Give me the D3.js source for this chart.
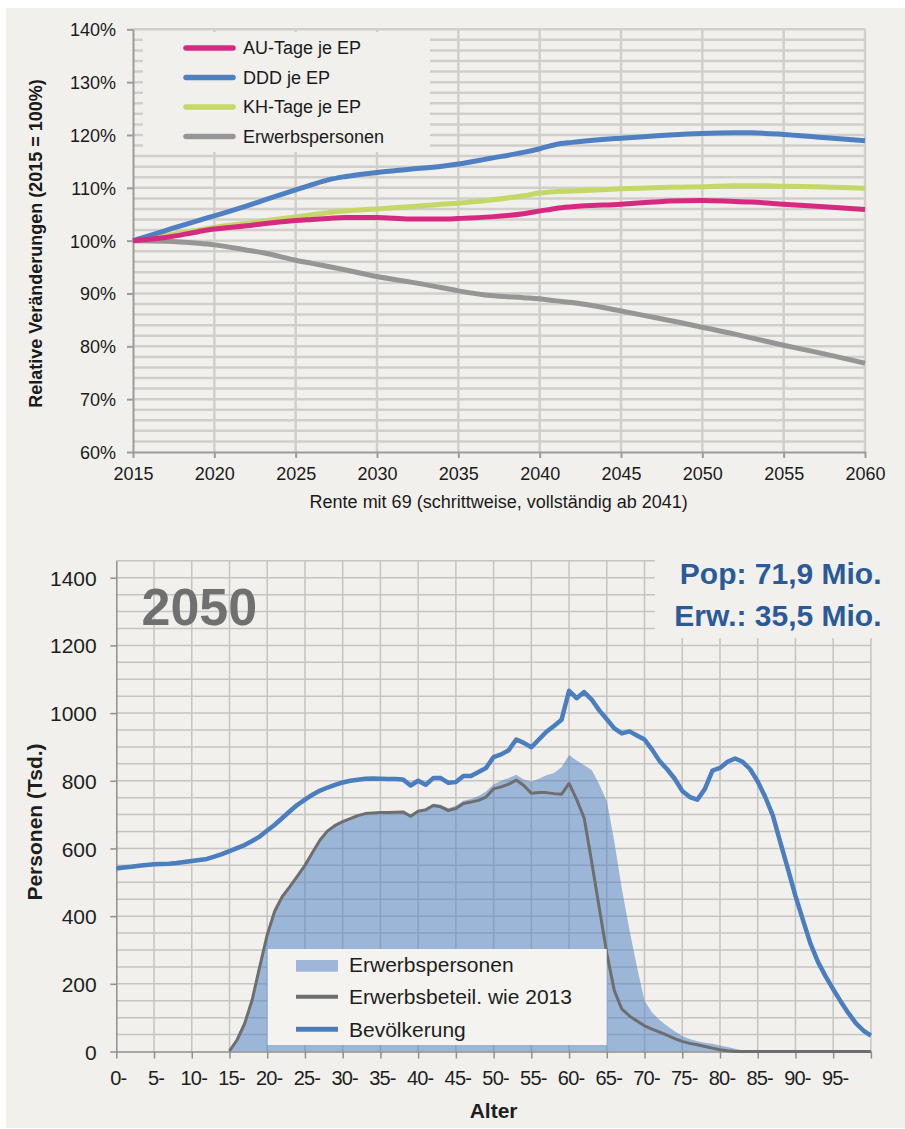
<!DOCTYPE html>
<html>
<head>
<meta charset="utf-8">
<script src="https://cdn.jsdelivr.net/npm/d3@7"></script>
<style>
  body { margin: 0; background: #fff; }
  svg { display: block; }
  text { font-family: "Liberation Sans", Arial, sans-serif; }
</style>
</head>
<body>
<svg id="chart" width="905" height="1129"></svg>
<script>
// ---------- upper chart: relative change, 2015 = 100 % ----------
const years = [2015, 2017, 2019, 2020, 2022, 2023, 2025, 2026, 2027, 2028, 2030, 2032, 2034, 2035,
               2037, 2039, 2040, 2041, 2042, 2045, 2047, 2048, 2050, 2052, 2053, 2055, 2057, 2060];
const auTage = [100, 100.6, 101.7, 102.2, 102.8, 103.2, 103.8, 104.0, 104.2, 104.4, 104.4, 104.1, 104.1, 104.2,
                104.5, 105.1, 105.6, 106.1, 106.4, 106.9, 107.3, 107.5, 107.6, 107.4, 107.3, 106.9, 106.5, 105.9];
const dddJeEP = [100, 101.9, 103.8, 104.7, 106.6, 107.6, 109.6, 110.6, 111.5, 112.1, 112.9, 113.5, 114.1, 114.5,
                 115.6, 116.7, 117.4, 118.2, 118.6, 119.4, 119.8, 120.0, 120.3, 120.4, 120.4, 120.1, 119.6, 118.9];
const khTage = [100, 101.0, 102.0, 102.5, 103.3, 103.7, 104.5, 104.9, 105.3, 105.6, 106.0, 106.4, 106.9, 107.1,
                107.7, 108.5, 109.0, 109.3, 109.4, 109.8, 110.0, 110.1, 110.2, 110.4, 110.4, 110.3, 110.2, 109.9];
const erwerbspersonen = [100, 99.9, 99.5, 99.2, 98.2, 97.7, 96.3, 95.7, 95.1, 94.5, 93.2, 92.2, 91.1, 90.5,
                         89.6, 89.2, 89.0, 88.6, 88.3, 86.7, 85.5, 84.9, 83.6, 82.3, 81.6, 80.2, 78.9, 76.8];
const yearTicks = [2015, 2020, 2025, 2030, 2035, 2040, 2045, 2050, 2055, 2060];
const pctTicks = [60, 70, 80, 90, 100, 110, 120, 130, 140];
const topSeries = [
  { name: "AU-Tage je EP", values: auTage, color: "#d62a80" },
  { name: "DDD je EP", values: dddJeEP, color: "#4f81c2" },
  { name: "KH-Tage je EP", values: khTage, color: "#c3d866" },
  { name: "Erwerbspersonen", values: erwerbspersonen, color: "#969696" }
];

// ---------- lower chart: age structure 2050 (thousands) ----------
const ages = d3.range(0, 101);
const bevoelkerung = [
  541, 544, 546, 549, 551, 553, 554, 555, 557, 560,
  563, 566, 569, 576, 583, 592, 601, 610, 622, 635,
  653, 670, 690, 710, 729, 744, 759, 771, 780, 788,
  795, 800, 803, 806, 807, 806, 805, 805, 804, 786,
  800, 788, 808, 808, 794, 796, 814, 814, 826, 838,
  870, 878, 890, 922, 912, 899, 922, 945, 962, 980,
  1066, 1044, 1062, 1040, 1008, 982, 955, 940, 946, 934,
  922, 892, 858, 834, 806, 770, 752, 744, 776, 830,
  838, 856, 866, 856, 834, 798, 752, 698, 618, 540,
  460, 388, 318, 264, 222, 184, 148, 114, 84, 62, 47
];
const erwerbspersonenAlter = [
  null, null, null, null, null, null, null, null, null, null,
  null, null, null, null, null, 2, 34, 82, 152, 250,
  345, 415, 458, 487, 518, 550, 588, 625, 652, 668,
  680, 690, 699, 705, 707, 708, 709, 710, 711, 700,
  714, 719, 732, 729, 719, 726, 741, 746, 755, 768,
  790, 800, 808, 818, 804, 798, 806, 816, 823, 840,
  876, 860, 846, 832, 790, 740, 620, 480, 360, 250,
  150, 115, 93, 75, 60, 46, 37, 30, 26, 23,
  18, 13, 8, 3, 0, 0, 0, 0, 0, 0,
  0, 0, 0, 0, 0, 0, 0, 0, 0, 0, 0
];
const erwerbsbeteil2013 = [
  null, null, null, null, null, null, null, null, null, null,
  null, null, null, null, null, 2, 34, 82, 152, 250,
  345, 415, 458, 487, 518, 550, 588, 625, 652, 668,
  679, 688, 697, 703, 705, 706, 706, 707, 708, 695,
  710, 714, 727, 723, 712, 718, 733, 737, 742, 752,
  776, 782, 790, 802, 786, 763, 765, 765, 762, 760,
  792, 745, 690, 560, 425, 290, 180, 125, 105, 90,
  76, 66, 57, 48, 38, 30, 24, 20, 15, 10,
  5, 2, 0, 0, 0, 0, 0, 0, 0, 0,
  0, 0, 0, 0, 0, 0, 0, 0, 0, 0, 0
];
const ageTicks = [0, 5, 10, 15, 20, 25, 30, 35, 40, 45, 50, 55, 60, 65, 70, 75, 80, 85, 90, 95, 100];
const personTicks = [0, 200, 400, 600, 800, 1000, 1200, 1400];
const bottomLegend = ["Erwerbspersonen", "Erwerbsbeteil. wie 2013", "Bevölkerung"];

const BG = "#f1f0ec";
const svg = d3.select("#chart");
svg.append("rect").attr("x", 6).attr("y", 8).attr("width", 899).attr("height", 1120).attr("fill", BG);

// ================= upper chart =================
const x1 = d3.scaleLinear().domain([2015, 2060]).range([133, 865]);
const y1 = d3.scaleLinear().domain([60, 140]).range([452, 29.3]);
const g1 = svg.append("g");

g1.selectAll("line.hg").data(d3.range(62, 141, 2)).join("line").attr("class", "hg")
  .attr("x1", x1(2015)).attr("x2", x1(2060))
  .attr("y1", d => y1(d)).attr("y2", d => y1(d))
  .attr("stroke", "#d0cfcc").attr("stroke-width", 2.5);
g1.selectAll("line.vg").data(yearTicks.slice(1)).join("line").attr("class", "vg")
  .attr("x1", d => x1(d)).attr("x2", d => x1(d))
  .attr("y1", y1(60)).attr("y2", y1(140))
  .attr("stroke", "#d0cfcc").attr("stroke-width", 2.5);

// legend background hides the grid behind it
g1.append("rect").attr("x", 143).attr("y", 32).attr("width", 287).attr("height", 120).attr("fill", BG);

const axB1 = g1.append("g").attr("transform", `translate(0,${y1(60)})`)
  .call(d3.axisBottom(x1).tickValues(yearTicks).tickFormat(d3.format("d")).tickSize(6).tickSizeOuter(0));
const axL1 = g1.append("g").attr("transform", `translate(${x1(2015)},0)`)
  .call(d3.axisLeft(y1).tickValues(pctTicks).tickFormat(d => d + "%").tickSize(6).tickPadding(11).tickSizeOuter(0));
[axB1, axL1].forEach(a => {
  a.select(".domain").attr("stroke", "#9b9b9b").attr("stroke-width", 2);
  a.selectAll(".tick line").attr("stroke", "#9b9b9b").attr("stroke-width", 2);
  a.selectAll(".tick text").attr("font-size", 18).attr("fill", "#1a1a1a");
});
axB1.selectAll(".tick text").attr("y", 28).attr("dy", null);
axL1.selectAll(".tick text").attr("dy", "0.36em");

const line1 = d3.line().x((d, i) => x1(years[i])).y(d => y1(d)).curve(d3.curveMonotoneX);
topSeries.slice().reverse().forEach(s => {
  g1.append("path").attr("d", line1(s.values)).attr("fill", "none")
    .attr("stroke", s.color).attr("stroke-width", 5).attr("stroke-linejoin", "round");
});

topSeries.forEach((s, i) => {
  const yy = 54 + i * 29.5;
  g1.append("line").attr("x1", 186).attr("x2", 233).attr("y1", yy - 6).attr("y2", yy - 6)
    .attr("stroke", s.color).attr("stroke-width", 5.5).attr("stroke-linecap", "round");
  g1.append("text").attr("x", 243).attr("y", yy).attr("font-size", 18).attr("fill", "#1a1a1a").text(s.name);
});

g1.append("text").attr("transform", "translate(41.5,243.5) rotate(-90)")
  .attr("text-anchor", "middle").attr("font-size", 18).attr("font-weight", "bold").attr("fill", "#1a1a1a")
  .text("Relative Veränderungen (2015 = 100%)");
g1.append("text").attr("x", 498.7).attr("y", 508.3).attr("text-anchor", "middle")
  .attr("font-size", 18).attr("fill", "#1a1a1a")
  .text("Rente mit 69 (schrittweise, vollständig ab 2041)");

// ================= lower chart =================
const x2 = d3.scaleLinear().domain([0, 100]).range([116.3, 870.9]);
const y2 = d3.scaleLinear().domain([0, 1450]).range([1051.5, 560.8]);
const g2 = svg.append("g");

g2.selectAll("line.hg").data(d3.range(50, 1451, 50)).join("line").attr("class", "hg")
  .attr("x1", x2(0)).attr("x2", x2(100))
  .attr("y1", d => y2(d)).attr("y2", d => y2(d))
  .attr("stroke", "#c6c4c0").attr("stroke-width", 1.5);
g2.selectAll("line.vg").data(ageTicks.slice(1)).join("line").attr("class", "vg")
  .attr("x1", d => x2(d)).attr("x2", d => x2(d))
  .attr("y1", y2(0)).attr("y2", y2(1450))
  .attr("stroke", "#c6c4c0").attr("stroke-width", 1.5);

const rows = ages.map((a, i) => ({ a, pop: bevoelkerung[i], erw: erwerbspersonenAlter[i], beteil: erwerbsbeteil2013[i] }));

const AREA_FILL = "#4f80c4", AREA_OP = 0.52;
g2.append("path")
  .attr("d", d3.area().defined(d => d.erw != null).x(d => x2(d.a)).y0(y2(0)).y1(d => y2(d.erw))(rows))
  .attr("fill", AREA_FILL).attr("fill-opacity", AREA_OP);

const axB2 = g2.append("g").attr("transform", `translate(0,${y2(0)})`)
  .call(d3.axisBottom(x2).tickValues(ageTicks).tickFormat(d => d < 100 ? d + "-" : "").tickSize(7).tickSizeOuter(0));
const axL2 = g2.append("g").attr("transform", `translate(${x2(0)},0)`)
  .call(d3.axisLeft(y2).tickValues(personTicks).tickFormat(d3.format("d")).tickSize(6).tickPadding(13.6).tickSizeOuter(0));
[axB2, axL2].forEach(a => {
  a.select(".domain").attr("stroke", "#8f8f8f").attr("stroke-width", 1.5);
  a.selectAll(".tick line").attr("stroke", "#8f8f8f").attr("stroke-width", 1.5);
  a.selectAll(".tick text").attr("fill", "#1e1e1e");
});
axB2.selectAll(".tick text").attr("font-size", 20).attr("letter-spacing", "-0.8px")
  .attr("x", 1.5).attr("y", 33.5).attr("dy", null);
axL2.selectAll(".tick text").attr("font-size", 21).attr("dy", "0.36em");

g2.append("path")
  .attr("d", d3.line().defined(d => d.beteil != null).x(d => x2(d.a)).y(d => y2(d.beteil))(rows))
  .attr("fill", "none").attr("stroke", "#6e6e6e").attr("stroke-width", 3).attr("stroke-linejoin", "round");
g2.append("path")
  .attr("d", d3.line().x(d => x2(d.a)).y(d => y2(d.pop))(rows))
  .attr("fill", "none").attr("stroke", "#4a7ebf").attr("stroke-width", 4.5).attr("stroke-linejoin", "round");

// totals box top right
g2.append("rect").attr("x", 655).attr("y", 552).attr("width", 230).attr("height", 86).attr("fill", BG);
g2.append("text").attr("x", 881.5).attr("y", 583.5).attr("text-anchor", "end")
  .attr("font-size", 30).attr("font-weight", "bold").attr("fill", "#2a5a98").text("Pop: 71,9 Mio.");
g2.append("text").attr("x", 881.5).attr("y", 626).attr("text-anchor", "end")
  .attr("font-size", 30).attr("font-weight", "bold").attr("fill", "#2a5a98").text("Erw.: 35,5 Mio.");

g2.append("text").attr("x", 141.5).attr("y", 625).attr("font-size", 52).attr("font-weight", "bold")
  .attr("fill", "#707070").text("2050");

// legend
g2.append("rect").attr("x", 267.7).attr("y", 949).attr("width", 339).attr("height", 96).attr("fill", "#f4f3ef");
g2.append("rect").attr("x", 296).attr("y", 960).attr("width", 42).attr("height", 11.7)
  .attr("fill", AREA_FILL).attr("fill-opacity", AREA_OP);
g2.append("line").attr("x1", 296).attr("x2", 338).attr("y1", 996.7).attr("y2", 996.7)
  .attr("stroke", "#6e6e6e").attr("stroke-width", 4);
g2.append("line").attr("x1", 296).attr("x2", 338).attr("y1", 1029.3).attr("y2", 1029.3)
  .attr("stroke", "#4a7ebf").attr("stroke-width", 5);
bottomLegend.forEach((t, i) => {
  g2.append("text").attr("x", 349).attr("y", [971.7, 1004.3, 1036.7][i])
    .attr("font-size", 21).attr("fill", "#1e1e1e").text(t);
});

g2.append("text").attr("transform", "translate(41.5,822) rotate(-90)").attr("text-anchor", "middle")
  .attr("font-size", 21).attr("font-weight", "bold").attr("fill", "#1e1e1e").text("Personen (Tsd.)");
g2.append("text").attr("x", 493.6).attr("y", 1118).attr("text-anchor", "middle")
  .attr("font-size", 21).attr("font-weight", "bold").attr("fill", "#1e1e1e").text("Alter");
</script>
</body>
</html>
